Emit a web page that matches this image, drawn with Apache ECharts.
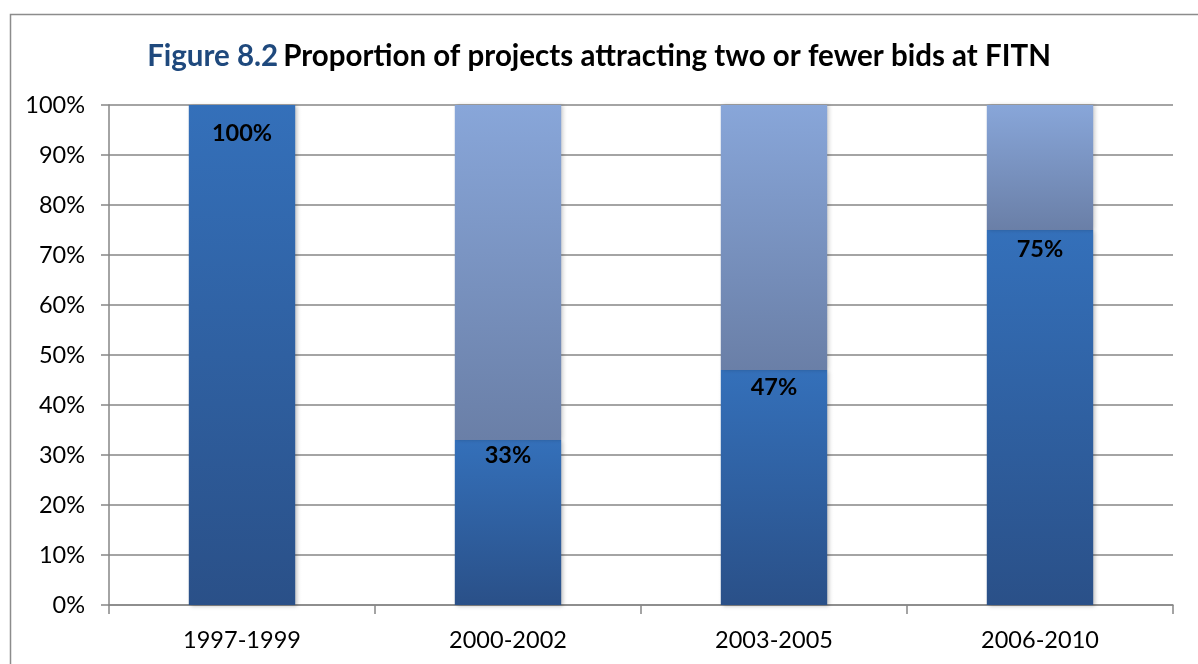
<!DOCTYPE html>
<html>
<head>
<meta charset="utf-8">
<script src="https://cdn.jsdelivr.net/npm/echarts@6/dist/echarts.min.js"></script>
<style>
  html, body { margin: 0; padding: 0; background: #fff; }
  #chart { width: 1198px; height: 664px; }
</style>
</head>
<body>
<div id="chart"></div>
<script>
// Periods and the share of projects that drew two or fewer bids (%)
const periods = ['1997-1999', '2000-2002', '2003-2005', '2006-2010'];
const fewBidsShare = [100, 33, 47, 75];
// Remaining share, stacked on top so every column reaches 100%
const otherShare = [0, 67, 53, 25];
const yTicks = [0, 10, 20, 30, 40, 50, 60, 70, 80, 90, 100];

const FONT = 'Lato, "Open Sans", sans-serif';
// Gap between each column top and its value label, in px
const labelGap = [16, 3, 5, 7];

const chart = echarts.init(document.getElementById('chart'), null, { renderer: 'canvas' });

const darkFill = new echarts.graphic.LinearGradient(0, 0, 0, 1, [
  { offset: 0, color: '#3470BA' },
  { offset: 1, color: '#2A5088' }
]);
const lightFill = new echarts.graphic.LinearGradient(0, 0, 0, 1, [
  { offset: 0, color: '#88A6D9' },
  { offset: 1, color: '#6A7FA7' }
]);

chart.setOption({
  animation: false,
  backgroundColor: '#ffffff',
  title: {
    left: 'center',
    top: 36,
    text: '{fig|Figure 8.2} {main|Proportion of projects attracting two or fewer bids at FITN}',
    textStyle: {
      rich: {
        fig: { fontFamily: FONT, fontWeight: 'bold', fontSize: 29.5, color: '#1F497D' },
        main: { fontFamily: FONT, fontWeight: 'bold', fontSize: 29.5, color: '#000000' }
      }
    }
  },
  graphic: [{
    type: 'rect',
    left: 8, top: 12,
    shape: { width: 1200, height: 660 },
    style: { fill: 'none', stroke: '#8C8C8C', lineWidth: 1.5 },
    z: -1
  }],
  grid: { left: 109, right: 25, top: 105, bottom: 59 },
  xAxis: {
    type: 'category',
    data: periods,
    axisLine: { lineStyle: { color: '#868686', width: 1.5 } },
    axisTick: { show: true, length: 9, lineStyle: { color: '#868686', width: 1.5 } },
    axisLabel: { fontFamily: FONT, fontSize: 23.5, color: '#000', margin: 23 }
  },
  yAxis: {
    type: 'value',
    min: yTicks[0],
    max: yTicks[yTicks.length - 1],
    interval: 10,
    axisLine: { show: true, lineStyle: { color: '#868686', width: 1.5 } },
    axisTick: { show: true, length: 8, lineStyle: { color: '#868686', width: 1.5 } },
    splitLine: { lineStyle: { color: '#868686', width: 1.5 } },
    axisLabel: {
      fontFamily: FONT, fontSize: 23.5, color: '#000', margin: 24,
      formatter: v => v + '%'
    }
  },
  series: [
    {
      name: 'Two or fewer bids',
      type: 'bar',
      stack: 'total',
      data: fewBidsShare.map((v, i) => ({ value: v, label: { distance: labelGap[i] } })),
      barWidth: '40%',
      itemStyle: {
        color: darkFill,
        shadowColor: 'rgba(0,0,0,0.25)', shadowBlur: 4, shadowOffsetX: 2, shadowOffsetY: 1
      },
      label: {
        show: true,
        position: 'insideTop',
        fontFamily: FONT, fontWeight: 'bold', fontSize: 23.5, color: '#000',
        formatter: p => p.value + '%'
      }
    },
    {
      name: 'Other',
      type: 'bar',
      stack: 'total',
      data: otherShare,
      barWidth: '40%',
      itemStyle: {
        color: lightFill,
        shadowColor: 'rgba(0,0,0,0.2)', shadowBlur: 4, shadowOffsetX: 2, shadowOffsetY: 0
      }
    }
  ]
});
</script>
</body>
</html>
